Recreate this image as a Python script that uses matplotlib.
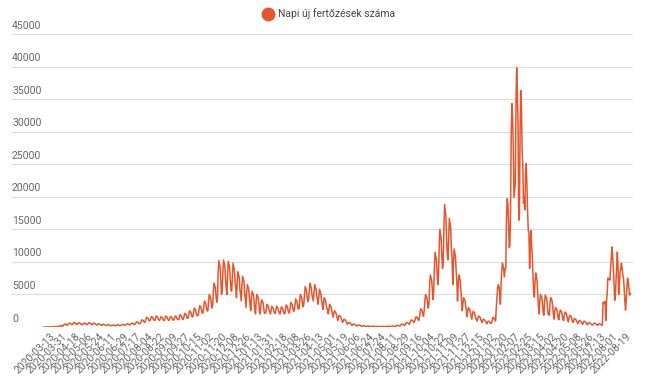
import matplotlib
matplotlib.use("Agg")
import matplotlib.pyplot as plt
from matplotlib.lines import Line2D

plt.rcParams['font.family'] = ['Roboto', 'DejaVu Sans']

# napi uj fertozesek, soronkent egy het (nehany helyen 8 nap)
napi = [
    0, 0, 2, 1, 5, 3, 8,
    6, 12, 20, 18, 25, 22, 15,
    30, 45, 60, 55, 75, 60, 40,
    80, 120, 160, 150, 190, 170, 110,
    200, 320, 420, 380, 450, 350, 250,
    350, 480, 600, 570, 540, 420, 380,
    400, 560, 700, 660, 630, 490, 430,
    400, 520, 650, 620, 590, 460, 420, 410,
    350, 480, 600, 570, 540, 420, 380,
    400, 520, 650, 610, 580, 450, 410,
    350, 480, 600, 560, 530, 420, 370,
    300, 400, 500, 470, 450, 350, 310,
    250, 320, 400, 380, 360, 280, 260,
    200, 280, 350, 330, 310, 250, 210,
    200, 240, 300, 290, 270, 220, 200,
    200, 280, 350, 330, 310, 250, 210,
    250, 320, 400, 380, 360, 290, 260,
    300, 400, 500, 480, 450, 350, 320,
    350, 480, 600, 580, 550, 430, 380,
    450, 640, 800, 760, 720, 560, 500, 520,
    600, 880, 1100, 1050, 1000, 780, 680,
    900, 1200, 1500, 1430, 1350, 1050, 950,
    1000, 1280, 1600, 1520, 1440, 1120, 1050,
    1000, 1360, 1700, 1620, 1530, 1190, 1060,
    1000, 1280, 1600, 1520, 1440, 1120, 1040,
    1000, 1360, 1700, 1610, 1530, 1200, 1070,
    1000, 1280, 1600, 1530, 1450, 1130, 1050,
    1100, 1380, 1700, 1620, 1540, 1210, 1150,
    1100, 1520, 1900, 1810, 1710, 1330, 1180,
    1200, 1680, 2100, 2000, 1900, 1470, 1300,
    1400, 2000, 2500, 2380, 2250, 1750, 1550,
    1600, 2320, 2900, 2760, 2610, 2030, 1780, 1700,
    1900, 2640, 3300, 3140, 2970, 2310, 2100,
    2200, 3200, 4000, 3800, 3600, 2800, 2450,
    2500, 4000, 5000, 4750, 4500, 3500, 2900,
    3300, 5360, 6700, 6400, 6000, 4700, 3800,
    4000, 8200, 10200, 9700, 9200, 7100, 5000,
    5500, 8240, 10300, 9800, 9300, 7200, 6000,
    5000, 8100, 10100, 9600, 9100, 7100, 5600,
    5500, 7840, 9800, 9300, 8800, 6900, 5900,
    4500, 6800, 8500, 8100, 7650, 5950, 4900,
    4000, 6240, 7800, 7400, 7000, 5460, 4300,
    3000, 5200, 6500, 6200, 5850, 4550, 3300,
    2500, 4400, 5500, 5200, 4950, 3850, 2700,
    2000, 4000, 5000, 4750, 4500, 3500, 2200,
    2000, 3360, 4200, 4000, 3780, 2940, 2150, 2100,
    2200, 2800, 3500, 3330, 3150, 2600, 2300,
    2000, 2560, 3200, 3040, 2880, 2400, 2100,
    2100, 2560, 3200, 3050, 2900, 2450, 2200,
    2000, 2480, 3100, 2950, 2800, 2350, 2100,
    2000, 2720, 3400, 3230, 3060, 2500, 2150,
    2200, 3040, 3800, 3610, 3420, 2800, 2400,
    2500, 3440, 4300, 4090, 3870, 3150, 2750,
    2800, 4000, 5000, 4750, 4500, 3600, 3100,
    3500, 4960, 6200, 5900, 5580, 4500, 3900,
    4200, 5360, 6700, 6400, 6000, 5000, 4500,
    4000, 5200, 6500, 6200, 5850, 4800, 4200,
    3500, 4640, 5800, 5500, 5200, 4200, 3600,
    2700, 3600, 4500, 4280, 4050, 3300, 2800, 2750,
    2000, 2800, 3500, 3330, 3150, 2550, 2050,
    1500, 2000, 2500, 2380, 2250, 1850, 1500,
    1000, 1440, 1800, 1710, 1620, 1300, 1000,
    700, 960, 1200, 1140, 1080, 870, 680,
    400, 560, 700, 670, 630, 500, 390,
    250, 360, 450, 430, 400, 320, 240,
    150, 240, 300, 285, 270, 210, 140,
    100, 160, 200, 190, 180, 140, 95,
    80, 120, 150, 140, 135, 105, 75,
    60, 95, 120, 115, 110, 85, 55,
    50, 80, 100, 95, 90, 70, 50,
    50, 80, 100, 95, 90, 70, 55, 52,
    60, 95, 120, 115, 110, 85, 65,
    80, 120, 150, 145, 135, 110, 90,
    120, 200, 250, 240, 225, 180, 140,
    200, 360, 450, 430, 400, 320, 240,
    350, 560, 700, 670, 630, 500, 400,
    600, 880, 1100, 1050, 990, 800, 680,
    900, 1280, 1600, 1520, 1440, 1150, 1000,
    1400, 2240, 2800, 2660, 2520, 2000, 1600,
    2500, 4000, 5000, 4750, 4500, 3600, 2900,
    3500, 6400, 8000, 7600, 7200, 5700, 4200,
    5500, 9200, 11500, 10900, 10300, 8200, 6500,
    8000, 12000, 15000, 14200, 13500, 10800, 9000,
    10000, 15000, 18800, 17800, 16900, 13500, 11000,
    10300, 13400, 16700, 15900, 15000, 12000, 10500,
    6500, 9600, 12000, 11400, 10800, 8600, 7000,
    4000, 6400, 8000, 7600, 7200, 5700, 4300,
    2500, 3600, 4500, 4280, 4050, 3200, 2600,
    1600, 2400, 3000, 2850, 2700, 2150, 1700,
    1200, 1920, 2400, 2280, 2160, 1720, 1250, 1200,
    900, 1360, 1700, 1620, 1530, 1220, 950,
    700, 960, 1200, 1140, 1080, 860, 720,
    500, 720, 900, 860, 810, 650, 520,
    600, 1000, 1500, 1400, 1300, 1100, 900,
    3000, 4500, 6000, 6500, 6200, 5200, 3500,
    6500, 8500, 9800, 9400, 8800, 7700, 9000,
    9000, 16900, 19700, 19000, 16000, 12200, 12500,
    18000, 30000, 34300, 32200, 28000, 19900, 21000,
    22000, 35000, 39800, 36000, 31000, 16400, 17500,
    30000, 36300, 34000, 27100, 24500, 19000, 20000,
    18000, 24000, 25100, 22000, 18000, 14800, 14500,
    9000, 13000, 14800, 12500, 10700, 7700, 5000,
    4600, 7000, 8300, 7800, 7000, 5000, 3100,
    2000, 4000, 5000, 4750, 4500, 3500, 2200,
    1800, 3900, 4900, 4650, 4400, 3400, 2000, 1900,
    1800, 3600, 4500, 4300, 4050, 3150, 1900,
    1200, 2400, 3000, 2850, 2700, 2100, 1300,
    1100, 2080, 2600, 2470, 2340, 1820, 1150,
    1000, 1840, 2300, 2180, 2070, 1600, 1050,
    800, 1440, 1800, 1710, 1620, 1260, 850,
    700, 1040, 1300, 1240, 1170, 910, 720,
    500, 800, 1000, 950, 900, 700, 520,
    400, 720, 900, 860, 810, 630, 420,
    350, 560, 700, 670, 630, 490, 360, 340,
    300, 480, 600, 570, 540, 420, 310,
    250, 400, 500, 480, 450, 350, 260,
    300, 3800, 3800, 3600, 3900, 1000, 4000,
    5000, 7500, 7300, 7500, 7200, 9000, 10500,
    12300, 11000, 9200, 7000, 4100, 4500, 7000,
    9500, 11500, 9000, 5000, 6500, 8500, 9000,
    9800, 9000, 8000, 7500, 6000, 4000, 2600,
    4000, 6000, 7500, 7000, 6000, 4900, 5200,
]

datumok = [
    '2020-03-13', '2020-03-31', '2020-04-18', '2020-05-06', '2020-05-24',
    '2020-06-11', '2020-06-29', '2020-07-17', '2020-08-04', '2020-08-22',
    '2020-09-09', '2020-09-27', '2020-10-15', '2020-11-02', '2020-11-20',
    '2020-12-08', '2020-12-26', '2021-01-13', '2021-01-31', '2021-02-18',
    '2021-03-08', '2021-03-26', '2021-04-13', '2021-05-01', '2021-05-19',
    '2021-06-06', '2021-06-24', '2021-07-24', '2021-08-11', '2021-08-29',
    '2021-09-16', '2021-10-04', '2021-10-22', '2021-11-09', '2021-11-27',
    '2021-12-15', '2022-01-02', '2022-01-20', '2022-02-07', '2022-02-25',
    '2022-03-15', '2022-04-02', '2022-04-20', '2022-05-08', '2022-05-26',
    '2022-07-13', '2022-08-01', '2022-08-19',
]
elso_cimke = 9
lepes = 18

y_ertekek = [0, 5000, 10000, 15000, 20000, 25000, 30000, 35000, 40000, 45000]

szin = '#e4572e'
szurke = '#666666'

fig = plt.figure(figsize=(6.5, 3.85), dpi=100)
ax = fig.add_axes([12 / 650, 1 - 327 / 385, 621 / 650, 293 / 385])

ax.plot(range(len(napi)), napi, color=szin, linewidth=1.1, solid_joinstyle='round')

ax.set_ylim(0, 45000)
ax.set_xlim(-47, 866)

ax.set_yticks(y_ertekek)
ax.yaxis.grid(True, color='#dddddd', linewidth=0.8)
ax.set_axisbelow(True)
ax.tick_params(axis='y', length=0, labelleft=False)
for y in y_ertekek:
    ax.annotate(str(y), xy=(0, y), xycoords=ax.get_yaxis_transform(),
                xytext=(0, 2.5), textcoords='offset points',
                ha='left', va='bottom', fontsize=7.5, color=szurke)

poz = [elso_cimke + lepes * k for k in range(len(datumok))]
ax.set_xticks(poz)
ax.set_xticklabels(datumok, rotation=45, ha='right', rotation_mode='anchor',
                   fontsize=7.5, color=szurke)
ax.tick_params(axis='x', length=0, pad=3)

for s in ax.spines.values():
    s.set_visible(False)

jel = Line2D([], [], marker='o', linestyle='', color=szin, markersize=9)
fig.legend([jel], ['Napi új fertőzések száma'], loc='center',
           bbox_to_anchor=(0.505, 1 - 14 / 385), frameon=False,
           fontsize=7.5, labelcolor='#444444', handletextpad=0.3,
           borderpad=0, handlelength=1.2)

fig.savefig('out.png', dpi=100)
